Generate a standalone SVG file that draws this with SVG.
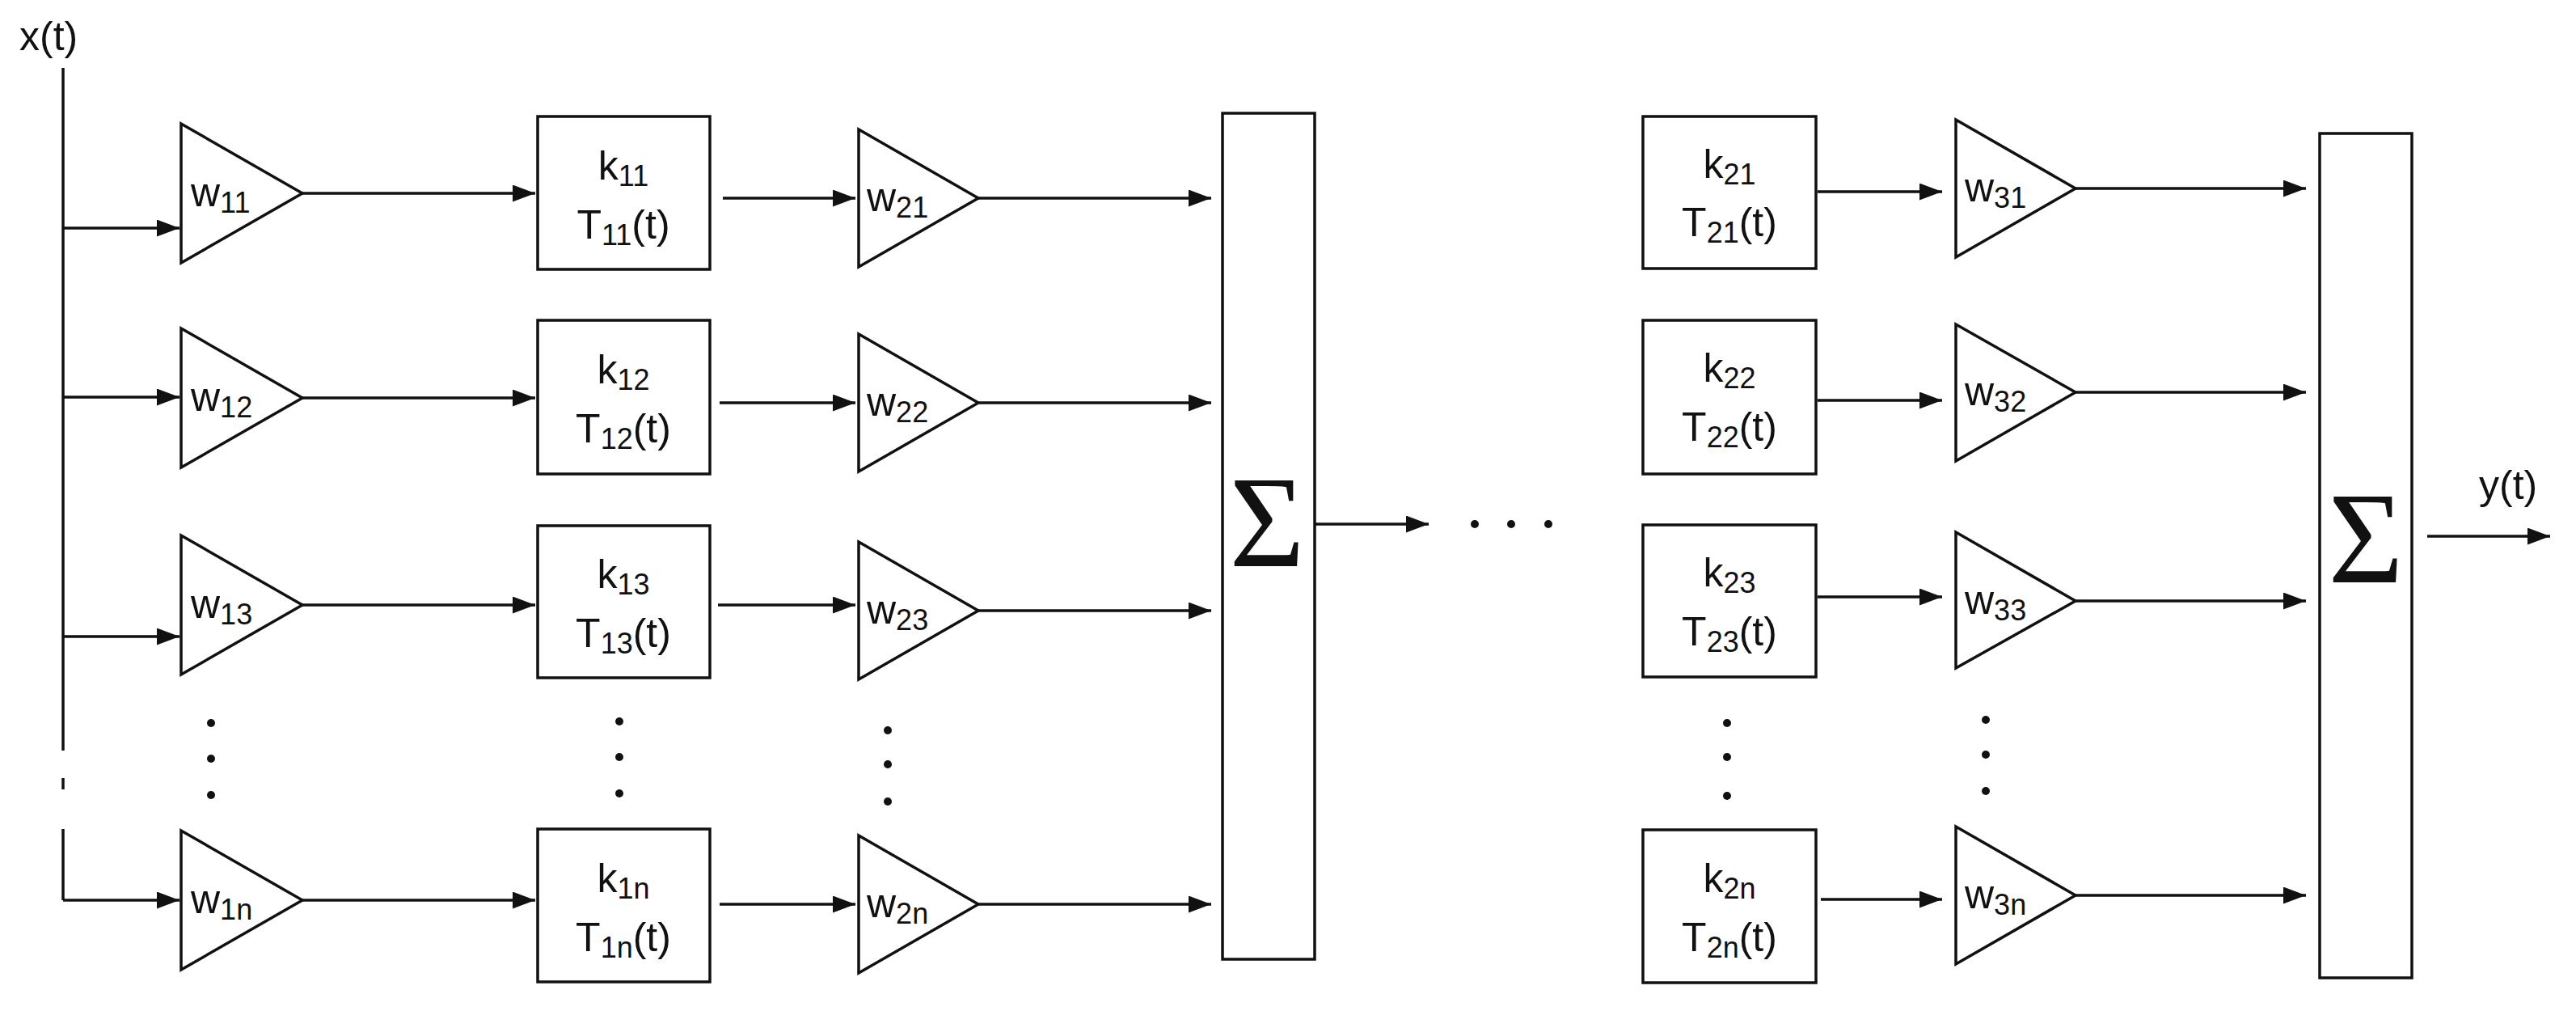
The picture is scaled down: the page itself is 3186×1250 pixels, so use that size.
<svg xmlns="http://www.w3.org/2000/svg" width="3186" height="1250" viewBox="0 0 3186 1250">
<defs>
<style>
.s{fill:none;stroke:#111;stroke-width:3.5}
.n{fill:#fff;stroke:#111;stroke-width:3.5}
.t{font-family:"Liberation Sans",Arial,sans-serif;font-size:50px;fill:#111}
.sub{font-size:36px}
.sig{font-family:"Liberation Serif","Times New Roman",serif;font-size:160px;fill:#111}
.d{fill:#111}
</style>
<marker id="a" markerWidth="8" markerHeight="6" refX="8" refY="3" orient="auto" markerUnits="strokeWidth"><path d="M0,0 L8,3 L0,6 z" fill="#111"/></marker>
</defs>
<g id="labels">
<text class="t" x="24" y="62">x(t)</text>
<text class="t" x="3066" y="617">y(t)</text>
</g>
<g id="connectors">
<path class="s" d="M78,84 V928 M78,962 V976 M78,1025 V1113"/>
<path class="s" marker-end="url(#a)" d="M78,282 H222"/>
<path class="s" marker-end="url(#a)" d="M78,491 H222"/>
<path class="s" marker-end="url(#a)" d="M78,787 H222"/>
<path class="s" marker-end="url(#a)" d="M78,1113 H222"/>
<path class="s" marker-end="url(#a)" d="M374,239 H662"/>
<path class="s" marker-end="url(#a)" d="M374,492 H662"/>
<path class="s" marker-end="url(#a)" d="M374,748 H662"/>
<path class="s" marker-end="url(#a)" d="M374,1113 H662"/>
<path class="s" marker-end="url(#a)" d="M894,245 H1058"/>
<path class="s" marker-end="url(#a)" d="M890,498 H1058"/>
<path class="s" marker-end="url(#a)" d="M888,748 H1058"/>
<path class="s" marker-end="url(#a)" d="M890,1118 H1058"/>
<path class="s" marker-end="url(#a)" d="M1210,245 H1498"/>
<path class="s" marker-end="url(#a)" d="M1210,498 H1498"/>
<path class="s" marker-end="url(#a)" d="M1210,755 H1498"/>
<path class="s" marker-end="url(#a)" d="M1210,1118 H1498"/>
<path class="s" marker-end="url(#a)" d="M1626,648 H1767"/>
<path class="s" marker-end="url(#a)" d="M2248,237 H2402"/>
<path class="s" marker-end="url(#a)" d="M2248,495 H2402"/>
<path class="s" marker-end="url(#a)" d="M2248,738 H2402"/>
<path class="s" marker-end="url(#a)" d="M2252,1112 H2402"/>
<path class="s" marker-end="url(#a)" d="M2567,233 H2852"/>
<path class="s" marker-end="url(#a)" d="M2567,485 H2852"/>
<path class="s" marker-end="url(#a)" d="M2567,743 H2852"/>
<path class="s" marker-end="url(#a)" d="M2567,1107 H2852"/>
<path class="s" marker-end="url(#a)" d="M3002,663 H3154"/>
</g>
<g id="dots">
<circle class="d" cx="261" cy="894" r="5"/><circle class="d" cx="261" cy="938" r="5"/><circle class="d" cx="261" cy="983" r="5"/>
<circle class="d" cx="766" cy="892" r="5"/><circle class="d" cx="766" cy="936" r="5"/><circle class="d" cx="766" cy="981" r="5"/>
<circle class="d" cx="1098" cy="903" r="5"/><circle class="d" cx="1098" cy="945" r="5"/><circle class="d" cx="1098" cy="991" r="5"/>
<circle class="d" cx="1824" cy="648" r="5"/><circle class="d" cx="1869" cy="648" r="5"/><circle class="d" cx="1915" cy="648" r="5"/>
<circle class="d" cx="2136" cy="894" r="5"/><circle class="d" cx="2136" cy="936" r="5"/><circle class="d" cx="2136" cy="984" r="5"/>
<circle class="d" cx="2456" cy="890" r="5"/><circle class="d" cx="2456" cy="933" r="5"/><circle class="d" cx="2456" cy="978" r="5"/>
</g>
<!-- column 1 gains -->
<g id="w11"><path class="n" d="M224,153 L374,239 L224,325 z"/><text class="t" x="236" y="255">w<tspan class="sub" dy="8">11</tspan></text></g>
<g id="w12"><path class="n" d="M224,406 L374,492 L224,578 z"/><text class="t" x="236" y="508">w<tspan class="sub" dy="8">12</tspan></text></g>
<g id="w13"><path class="n" d="M224,662 L374,748 L224,834 z"/><text class="t" x="236" y="764">w<tspan class="sub" dy="8">13</tspan></text></g>
<g id="w1n"><path class="n" d="M224,1027 L374,1113 L224,1199 z"/><text class="t" x="236" y="1129">w<tspan class="sub" dy="8">1n</tspan></text></g>
<!-- column 1 boxes -->
<g id="k11"><rect class="n" x="665" y="144" width="213" height="189"/><text class="t" text-anchor="middle" x="771" y="222">k<tspan class="sub" dy="8">11</tspan></text><text class="t" text-anchor="middle" x="771" y="295">T<tspan class="sub" dy="8">11</tspan><tspan dy="-8">(t)</tspan></text></g>
<g id="k12"><rect class="n" x="665" y="396" width="213" height="190"/><text class="t" text-anchor="middle" x="771" y="474">k<tspan class="sub" dy="8">12</tspan></text><text class="t" text-anchor="middle" x="771" y="547">T<tspan class="sub" dy="8">12</tspan><tspan dy="-8">(t)</tspan></text></g>
<g id="k13"><rect class="n" x="665" y="650" width="213" height="188"/><text class="t" text-anchor="middle" x="771" y="727">k<tspan class="sub" dy="8">13</tspan></text><text class="t" text-anchor="middle" x="771" y="800">T<tspan class="sub" dy="8">13</tspan><tspan dy="-8">(t)</tspan></text></g>
<g id="k1n"><rect class="n" x="665" y="1025" width="213" height="189"/><text class="t" text-anchor="middle" x="771" y="1103">k<tspan class="sub" dy="8">1n</tspan></text><text class="t" text-anchor="middle" x="771" y="1176">T<tspan class="sub" dy="8">1n</tspan><tspan dy="-8">(t)</tspan></text></g>
<!-- column 2 gains -->
<g id="w21"><path class="n" d="M1062,160 L1210,245 L1062,330 z"/><text class="t" x="1072" y="261">w<tspan class="sub" dy="8">21</tspan></text></g>
<g id="w22"><path class="n" d="M1062,413 L1210,498 L1062,583 z"/><text class="t" x="1072" y="514">w<tspan class="sub" dy="8">22</tspan></text></g>
<g id="w23"><path class="n" d="M1062,670 L1210,755 L1062,840 z"/><text class="t" x="1072" y="771">w<tspan class="sub" dy="8">23</tspan></text></g>
<g id="w2n"><path class="n" d="M1062,1033 L1210,1118 L1062,1203 z"/><text class="t" x="1072" y="1134">w<tspan class="sub" dy="8">2n</tspan></text></g>
<!-- sum 1 -->
<g id="sum1"><rect class="n" x="1512" y="140" width="114" height="1046"/><text class="sig" text-anchor="middle" x="1567" y="700">Σ</text></g>
<!-- column 3 boxes -->
<g id="k21"><rect class="n" x="2032" y="144" width="214" height="188"/><text class="t" text-anchor="middle" x="2139" y="220">k<tspan class="sub" dy="8">21</tspan></text><text class="t" text-anchor="middle" x="2139" y="292">T<tspan class="sub" dy="8">21</tspan><tspan dy="-8">(t)</tspan></text></g>
<g id="k22"><rect class="n" x="2032" y="396" width="214" height="190"/><text class="t" text-anchor="middle" x="2139" y="472">k<tspan class="sub" dy="8">22</tspan></text><text class="t" text-anchor="middle" x="2139" y="545">T<tspan class="sub" dy="8">22</tspan><tspan dy="-8">(t)</tspan></text></g>
<g id="k23"><rect class="n" x="2032" y="649" width="214" height="188"/><text class="t" text-anchor="middle" x="2139" y="725">k<tspan class="sub" dy="8">23</tspan></text><text class="t" text-anchor="middle" x="2139" y="798">T<tspan class="sub" dy="8">23</tspan><tspan dy="-8">(t)</tspan></text></g>
<g id="k2n"><rect class="n" x="2032" y="1026" width="214" height="189"/><text class="t" text-anchor="middle" x="2139" y="1103">k<tspan class="sub" dy="8">2n</tspan></text><text class="t" text-anchor="middle" x="2139" y="1176">T<tspan class="sub" dy="8">2n</tspan><tspan dy="-8">(t)</tspan></text></g>
<!-- column 3 gains -->
<g id="w31"><path class="n" d="M2419,148 L2567,233 L2419,318 z"/><text class="t" x="2430" y="249">w<tspan class="sub" dy="8">31</tspan></text></g>
<g id="w32"><path class="n" d="M2419,401 L2567,485 L2419,570 z"/><text class="t" x="2430" y="501">w<tspan class="sub" dy="8">32</tspan></text></g>
<g id="w33"><path class="n" d="M2419,658 L2567,743 L2419,826 z"/><text class="t" x="2430" y="759">w<tspan class="sub" dy="8">33</tspan></text></g>
<g id="w3n"><path class="n" d="M2419,1022 L2567,1107 L2419,1192 z"/><text class="t" x="2430" y="1123">w<tspan class="sub" dy="8">3n</tspan></text></g>
<!-- sum 2 -->
<g id="sum2"><rect class="n" x="2869" y="165" width="114" height="1044"/><text class="sig" text-anchor="middle" x="2926" y="720">Σ</text></g>
</svg>
